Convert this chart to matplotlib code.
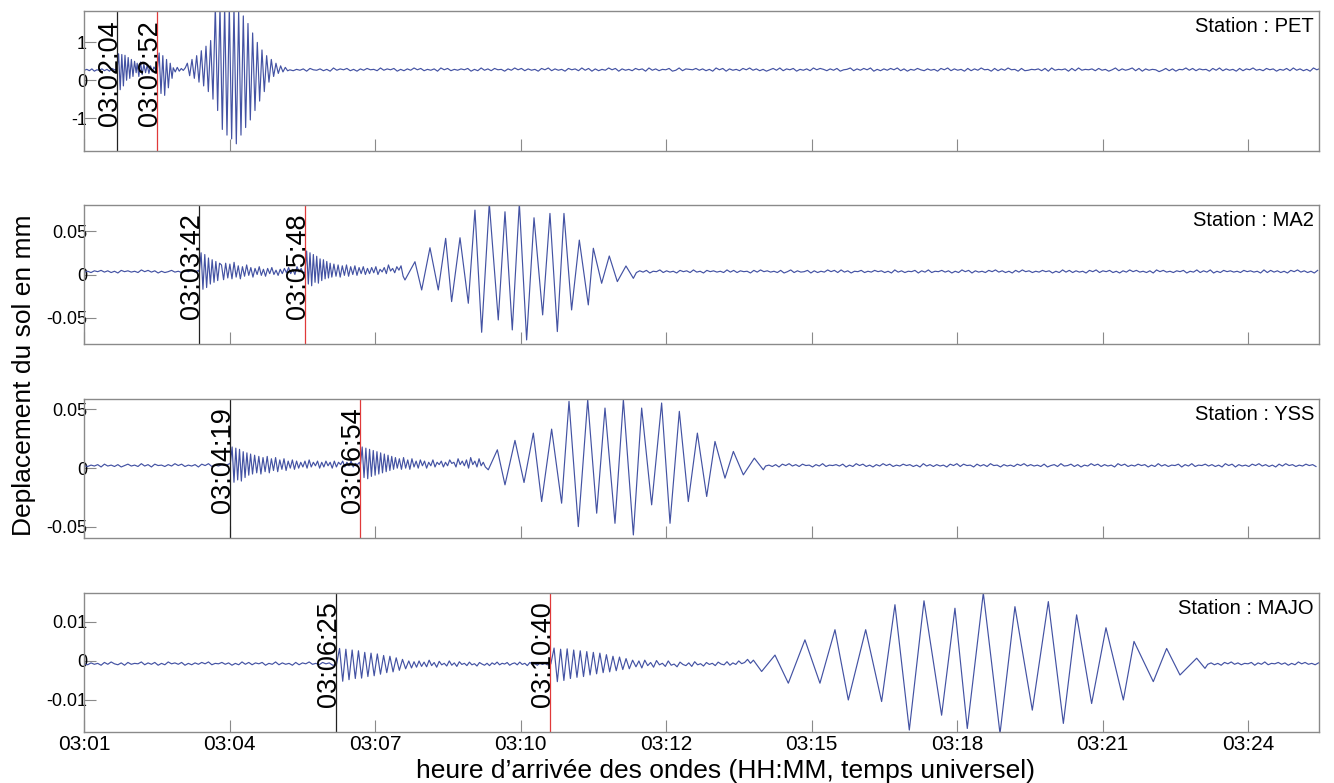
import numpy as np
import matplotlib
matplotlib.use('Agg')
import matplotlib.pyplot as plt

plt.rcParams['font.family'] = ['Liberation Sans', 'DejaVu Sans']

# time is in seconds after 03:00:00 UT
T_START = 85.0
T_END = 1556.6
TICK_STEP = 173.4
N_TICKS = 9

stations = ['PET', 'MA2', 'YSS', 'MAJO']
arrival_first = [124, 222, 259, 385]    # black marker
arrival_second = [172, 348, 414, 640]   # red marker
ylims = [(-1.87, 1.83), (-0.080, 0.080), (-0.0594, 0.0588), (-0.0182, 0.0174)]
yticks = [[-1, 0, 1], [-0.05, 0, 0.05], [-0.05, 0, 0.05], [-0.01, 0, 0.01]]
ytick_labels = [['-1', '0', '1'], ['-0.05', '0', '0.05'], ['-0.05', '0', '0.05'], ['-0.01', '0', '0.01']]

# ---- PET (values in 0.01 mm) ----
pet_pre = "4637254736285"
pet_p = [28, 70, -25, 68, -15, 66, 0, 60, 5, 55, 10, 50, 20]
pet_coda1 = [45, 10, 48, 15, 42, 20, 40, 18, 38, 22, 35, 28]
pet_s = [28, 72, -35, 65, -40, 55, -20, 45, 5]
pet_coda2 = [33, 22, 34, 24, 31, 26, 33]
pet_main = [45, 12, 55, 5, 65, -5, 78, -15, 90, -30, 105, -50, 195, -80, 195, -130,
            195, -145, 195, -155, 195, -168, 185, -145, 170, -125, 150, -105, 125, -80,
            100, -55, 80, -30, 65, -5, 55, 10, 45, 18, 38, 22, 34, 25]
pet_post = ("5364728547362947583627485639475826374958364729583647582639473856274958"
            "3746285937462857394827364958274638572947365824937658473629582746385947"
            "3625849375826473958637482569374859263748593726485374628593746283749562"
            "8374956283465738294657283946573846259374693827465148372659483756284937"
            "4628375946385726483947362958")

# ---- MA2 (values in 0.001 mm) ----
ma2_pre = "46375847362857463958472635846375948"
ma2_p = [0, 22, -20, 20, -18, 16, -14, 14, -12, 12, -10, 10]
ma2_coda1 = [8, -9, 10, -7, 9, -8, 11, -6, 7, -8, 6, -5, 8, -4, 5, -6, 4, -3, 6, -4,
             3, -5, 4, -2, 5, -3, 2, -4, 3, -2, 4, -1, 5, -2, 3, -3, 6, 0, 4, -2]
ma2_s = [0, 24, -14, 22, -16, 20, -12, 18, -13, 15, -10, 14, -8, 12, -7, 10, -6]
ma2_coda2 = [9, -5, 8, -6, 7, -4, 8, -5, 6, -3, 7, -4, 5, -2, 6, -3, 4, -2, 5, -1,
             6, -3, 3, 0, 5, -2, 8, 1, 4, -1, 6, 2, 7, -5]
ma2_surf_t = [467.2, 479.1, 487.1, 497.0, 506.9, 515.7, 522.8, 532.8, 542.7, 550.6,
              558.6, 567.7, 578.4, 586.4, 595.1, 603.5, 612.2, 621.0, 631.3, 640.0,
              648.8, 656.7, 665.8, 675.0, 685.7, 691.7, 701.6, 710.7, 720.3, 730.6, 739.4]
ma2_surf_v = [-6.3, 14.7, -17.8, 30.8, -17.8, 41.6, -31.2, 42.3, -33.1, 74.1,
              -66.5, 82, -52.3, 72.2, -63.8, 82, -75.3, 65.3, -46.5, 70.3,
              -65.7, 70.3, -40.8, 39.6, -35.0, 30.2, -10.1, 21.3, -8.2, 9.8, -4.4]
ma2_post = ("3748265937462857394628574639483756284957463825937458273649583947265836"
            "4857362947365827493658472639582746385947362849573648572639483746285937"
            "5836274958463729584637582649374926385746385746293847362859473628")

# ---- YSS (values in 0.001 mm) ----
yss_pre = "53647284637258463947285637495836472859364758"
yss_p = [2, 16, -14, 15, -12, 14, -13, 12, -10, 11, -8, 10]
yss_coda1 = [-7, 9, -6, 8, -7, 7, -5, 8, -6, 6, -4, 7, -5, 5, -3, 6, -4, 4, -2, 5,
             -3, 4, -2, 3, -1, 4, -2, 5, -1, 3, 0, 4, -2, 3, -1, 4, 0, 3, -2, 4,
             -1, 3, 1, 4, -1, 3, 0, 4, -1, 2, 1, 3]
yss_s = [0, 16, -10, 15, -11, 14, -9, 13, -8, 12, -7, 11, -6, 10, -5, 9, -4, 8, -3, 7, -2]
yss_coda2 = [6, -3, 7, -2, 5, -3, 6, -1, 4, -2, 5, 0, 4, -2, 3, 0, 5, -1, 3, 1,
             4, -1, 3, 0, 5, 2, 3, -1, 6, 1, 4, 0, 5, -2, 7, 1, 4, -1, 6, 0, 3, -1]
yss_surf_t = [566.5, 577.3, 586.4, 598.3, 609.1, 620.2, 630.1, 642.0, 653.9, 662.7,
              673.8, 685.0, 695.7, 705.6, 717.5, 727.5, 739.4, 749.3, 761.2, 773.1,
              783.1, 794.2, 804.9, 815.7, 826.8, 836.7, 848.6, 858.6, 870.5, 883.6, 894.3]
yss_surf_v = [-1.4, 15.6, -14.2, 23.6, -12.2, 29.8, -28.4, 33.2, -29.8, 56.8,
              -49.7, 58.2, -38.3, 51.1, -46.9, 58.2, -56.8, 51.1, -31.2, 55.4,
              -46.9, 48.3, -28.4, 29.8, -24.1, 22.7, -8.5, 14.2, -5.7, 8.5, -1.4]
yss_post = ("4637285947385627493657482639583627495836485736294737462859385628473956"
            "2746385947463825739458372649583746295836485726394736582749365847362958"
            "2746385947362849573648573")

# ---- MAJO (values in 0.0001 mm) ----
majo_pre = ("5374628495372846593748263957482637485936584726394837582649374628375946"
            "38572")
majo_p = [-10, 32, -52, 30, -48, 28, -45, 26, -44, 22, -40, 20, -38, 18, -34, 14,
          -30, 12, -28, 8, -24, 4, -20, 0]
majo_coda1 = [-18, -2, -16, 0, -14, -3, -15, 2, -12, -4, -16, -1, -10, -6, -13, 0,
              -11, -5, -14, -2, -9, -6, -12, -3, -10, -7, -13, -4, -8, -11, -6, -12,
              -5, -9, -3, -10, -6, -8, -4, -11, -7, -5, -10, -3, -9, -6, -12, -4,
              -8, -7, -11, -5, -9, -6, -10]
majo_s = [-8, 33, -53, 30, -50, 31, -45, 28, -42, 26, -40, 24, -36, 22, -33, 20,
          -30, 16, -28, 12, -25, 10, -22, 6, -20, 2]
majo_coda2 = [-15, 0, -18, 2, -12, -4, -16, 1, -10, -6, -14, 0, -11, -8, -15, -3,
              -9, -12, -5, -14, -2, -10, -7, -13, -4, -9, -6, -12, -3, -8, -10, -2,
              -11, -5, -9, 0, -7, -4, 4, -6, 2]
majo_surf_t = [892.3, 908.2, 924.1, 943.9, 961.8, 979.7, 995.6, 1016.3, 1035.3, 1051.2,
               1068.3, 1085.8, 1106.8, 1122.7, 1137.4, 1156.5, 1176.4, 1194.2, 1214.9, 1234.0,
               1251.9, 1267.7, 1285.6, 1302.7, 1323.4, 1336.1, 1359.1, 1375.0, 1390.9, 1410.8, 1420.7]
majo_surf_v = [-27, 15, -57, 54, -57, 80, -100, 80, -104, 144,
               -177, 154, -139, 135, -173, 174, -186, 139, -126, 152,
               -160, 118, -109, 85, -100, 50, -53, 32, -36, 7, -19]
majo_post = "4736285947365827493658472639584637"


def even(t0, dt, vals, scale, offset=0.0):
    v = offset + np.asarray(vals, float) * scale
    return t0 + dt * np.arange(len(v)), v


def noise(t0, dt, digits, base, unit):
    d = np.array([int(c) for c in digits], float)
    return t0 + dt * np.arange(len(d)), base + (d - 4.5) * unit


def explicit(ts, vals, scale):
    return np.asarray(ts, float), np.asarray(vals, float) * scale


def join(pieces):
    t = np.concatenate([p[0] for p in pieces])
    v = np.concatenate([p[1] for p in pieces])
    return t, v


traces = [
    join([noise(85, 3, pet_pre, 0.27, 0.012),
          even(124, 1.9, pet_p, 0.01),
          even(148, 2.0, pet_coda1, 0.01),
          even(172, 2.2, pet_s, 0.01),
          even(191, 2.4, pet_coda2, 0.01),
          even(207.8, 2.78, pet_main, 0.01),
          noise(330, 4, pet_post, 0.27, 0.012)]),
    join([noise(85, 4, ma2_pre, 0.003, 0.0005),
          even(222, 2.2, ma2_p, 0.001, 0.003),
          even(248.5, 2.5, ma2_coda1, 0.001, 0.003),
          even(348, 2.0, ma2_s, 0.001, 0.003),
          even(382.5, 2.5, ma2_coda2, 0.001, 0.003),
          explicit(ma2_surf_t, ma2_surf_v, 0.001),
          noise(743, 4, ma2_post, 0.003, 0.0005)]),
    join([noise(85, 4, yss_pre, 0.002, 0.0004),
          even(259, 2.2, yss_p, 0.001, 0.002),
          even(285.5, 2.5, yss_coda1, 0.001, 0.002),
          even(414, 2.2, yss_s, 0.001, 0.002),
          even(460.5, 2.5, yss_coda2, 0.001, 0.002),
          explicit(yss_surf_t, yss_surf_v, 0.001),
          noise(897, 4, yss_post, 0.002, 0.0004)]),
    join([noise(85, 4, majo_pre, -0.0008, 0.00012),
          even(385.5, 3.75, majo_p, 0.0001),
          even(475, 3.0, majo_coda1, 0.0001),
          even(641, 3.9, majo_s, 0.0001),
          even(742.5, 3.5, majo_coda2, 0.0001),
          explicit(majo_surf_t, majo_surf_v, 0.0001),
          noise(1424, 4, majo_post, -0.0008, 0.00012)]),
]


def hhmmss(sec):
    sec = int(round(sec))
    return '03:%02d:%02d' % (sec // 60, sec % 60)


W, H = 1334, 783
fig = plt.figure(figsize=(W / 100, H / 100), dpi=100)

left_px, right_px = 84.3, 1319
panel_px = [(11, 151), (205, 344), (399, 538), (593, 732)]

tick_pos = T_START + TICK_STEP * np.arange(N_TICKS)
tick_lab = ['03:%02d' % (int(t) // 60) for t in tick_pos]

line_col = '#4352a3'
frame_col = '#8a8a8a'

for i, name in enumerate(stations):
    top, bot = panel_px[i]
    ax = fig.add_axes([left_px / W, 1 - bot / H, (right_px - left_px) / W, (bot - top) / H])
    t, v = traces[i]
    ax.plot(t, v, color=line_col, lw=0.85)
    ax.axvline(arrival_first[i], color='#222222', lw=0.9)
    ax.axvline(arrival_second[i], color='#e03a3a', lw=0.9)
    for ta in (arrival_first[i], arrival_second[i]):
        ax.text(ta, 0.18, hhmmss(ta), transform=ax.get_xaxis_transform(),
                rotation=90, rotation_mode='anchor', ha='left', va='baseline',
                fontsize=19.5, color='black')
    ax.text(0.996, 0.96, 'Station : ' + name, transform=ax.transAxes,
            ha='right', va='top', fontsize=14.5)
    ax.set_xlim(T_START, T_END)
    ax.set_ylim(*ylims[i])
    ax.set_xticks(tick_pos)
    ax.set_yticks(yticks[i])
    ax.set_yticklabels(ytick_labels[i])
    for s in ax.spines.values():
        s.set_color(frame_col)
        s.set_linewidth(1.0)
    ax.tick_params(axis='x', direction='in', length=8.6, color=frame_col, top=False,
                   labelsize=15, pad=2.5)
    ax.tick_params(axis='y', direction='in', length=8.6, color=frame_col, right=False,
                   labelsize=13, pad=-2)
    if i < 3:
        ax.set_xticklabels([])
    else:
        ax.set_xticklabels(tick_lab)

fig.text(24 / W, 1 - 375 / H, 'Deplacement du sol en mm', rotation=90,
         ha='center', va='center', fontsize=19)
fig.text(725 / W, 1 - 771 / H, 'heure d\u2019arrivée des ondes (HH:MM, temps universel)',
         ha='center', va='center', fontsize=19)

fig.savefig('out.png', dpi=100)
